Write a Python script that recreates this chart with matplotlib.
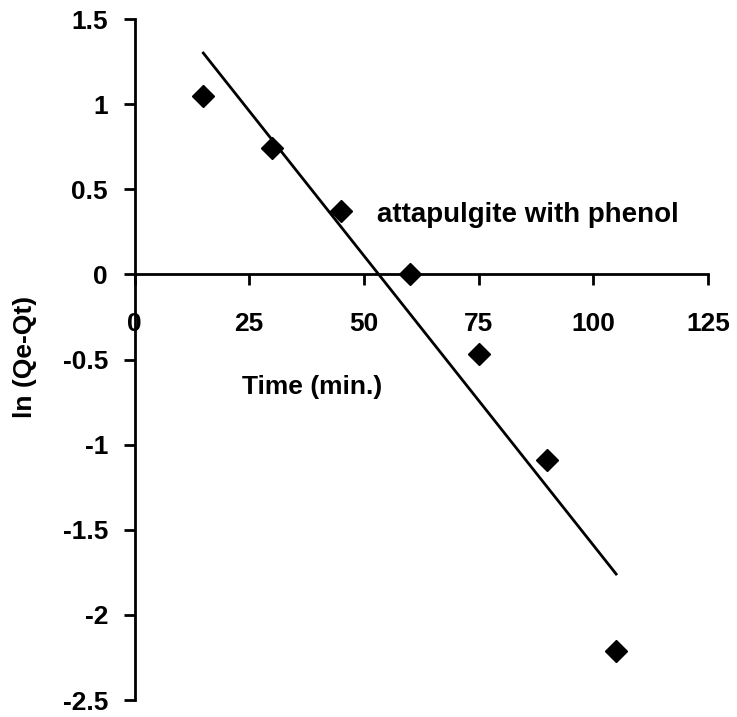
import matplotlib
matplotlib.use("Agg")
import matplotlib.pyplot as plt
import numpy as np

plt.rcParams['font.family'] = ['Liberation Sans', 'DejaVu Sans']
plt.rcParams['font.weight'] = 'bold'

time = np.array([15, 30, 45, 60, 75, 90, 105])
ln_qe_qt = np.array([1.05, 0.74, 0.37, 0.0, -0.47, -1.09, -2.21])

# linear fit of the points
slope, intercept = np.polyfit(time, ln_qe_qt, 1)
fit_x = np.array([time[0], time[-1]])
fit_y = slope * fit_x + intercept

fig = plt.figure(figsize=(7.37, 7.17), dpi=100)
ax = fig.add_axes([0.1825, 0.0237, 0.778, 0.9498])

ax.plot(time, ln_qe_qt, 'D', color='black', markersize=11, linestyle='none')
ax.plot(fit_x, fit_y, color='black', linewidth=2)

ax.set_xlim(0, 125)
ax.set_ylim(-2.5, 1.5)
ax.set_xticks([0, 25, 50, 75, 100, 125])
ax.set_yticks([-2.5, -2, -1.5, -1, -0.5, 0, 0.5, 1, 1.5])
ax.set_yticklabels(['-2.5', '-2', '-1.5', '-1', '-0.5', '0', '0.5', '1', '1.5'])

ax.spines['top'].set_visible(False)
ax.spines['right'].set_visible(False)
ax.spines['bottom'].set_position(('data', 0))
ax.spines['bottom'].set_linewidth(2)
ax.spines['left'].set_linewidth(2)
ax.tick_params(axis='both', direction='out', length=8, width=2, labelsize=19)
ax.tick_params(axis='x', pad=19)
ax.tick_params(axis='y', pad=11)

ax.text(52.9, 0.306, 'attapulgite with phenol', fontsize=20, fontweight='bold',
        va='baseline', ha='left')
ax.text(38.8, -0.70, 'Time (min.)', fontsize=19, fontweight='bold',
        va='baseline', ha='center')
fig.text(0.034, 0.502, 'ln (Qe-Qt)', fontsize=19, fontweight='bold',
         rotation=90, va='center', ha='center')

fig.savefig('out.png', dpi=100)
